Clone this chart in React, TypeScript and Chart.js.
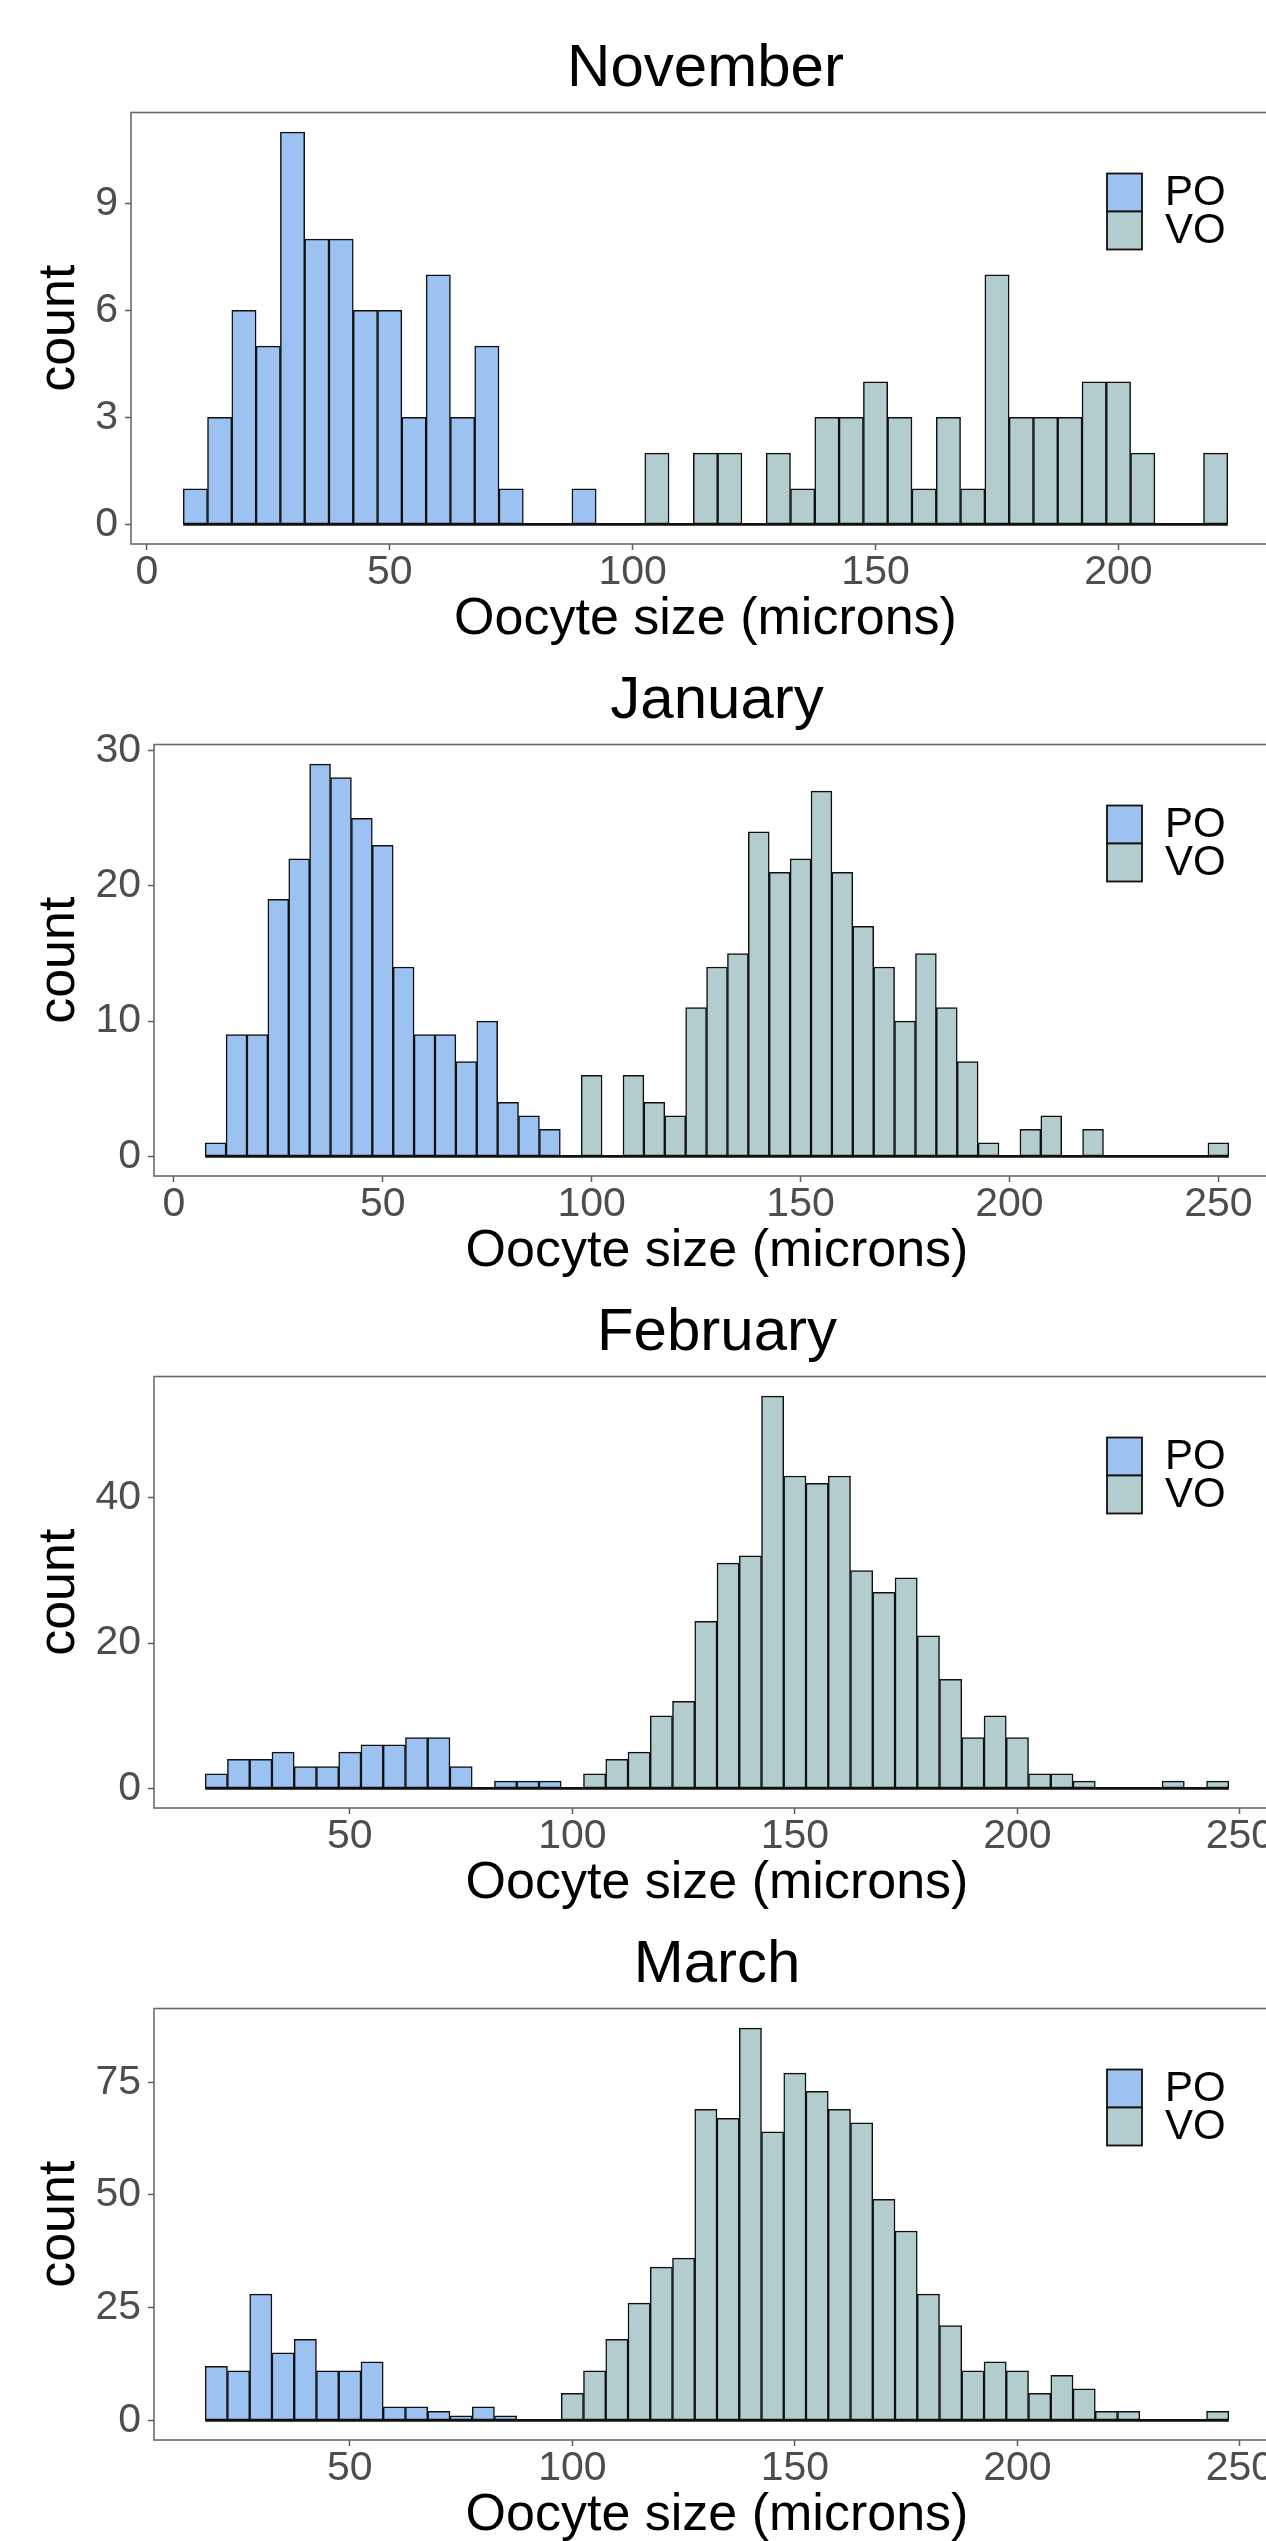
import React, { useEffect, useRef } from "react";
import { Chart, registerables } from "chart.js";

Chart.register(...registerables);

// ---------- data (bin width 5 microns, values = counts per bin) ----------
const BIN_WIDTH = 5;
const SERIES_LABELS = ["PO", "VO"];
const X_TITLE = "Oocyte size (microns)";
const Y_TITLE = "count";

// November
const novTitle = "November";
const novPOStart = 10;
const novPO = [1, 3, 6, 5, 11, 8, 8, 6, 6, 3, 7, 3, 5, 1, 0, 0, 1];
const novVOStart = 105;
const novVO = [2, 0, 2, 2, 0, 2, 1, 3, 3, 4, 3, 1, 3, 1, 7, 3, 3, 3, 4, 4, 2, 0, 0, 2];
const novXTicks = [0, 50, 100, 150, 200];
const novYTicks = [0, 3, 6, 9];

// January
const janTitle = "January";
const janPOStart = 10;
const janPO = [1, 9, 9, 19, 22, 29, 28, 25, 23, 14, 9, 9, 7, 10, 4, 3, 2];
const janVOStart = 100;
const janVO = [6, 0, 6, 4, 3, 11, 14, 15, 24, 21, 22, 27, 21, 17, 14, 10, 15, 11, 7, 1, 0, 2, 3, 0, 2, 0, 0, 0, 0, 0, 1];
const janXTicks = [0, 50, 100, 150, 200, 250];
const janYTicks = [0, 10, 20, 30];

// February
const febTitle = "February";
const febPOStart = 20;
const febPO = [2, 4, 4, 5, 3, 3, 5, 6, 6, 7, 7, 3, 0, 1, 1, 1];
const febVOStart = 105;
const febVO = [2, 4, 5, 10, 12, 23, 31, 32, 54, 43, 42, 43, 30, 27, 29, 21, 15, 7, 10, 7, 2, 2, 1, 0, 0, 0, 1, 0, 1];
const febXTicks = [50, 100, 150, 200, 250];
const febYTicks = [0, 20, 40];

// March
const marTitle = "March";
const marPOStart = 20;
const marPO = [12, 11, 28, 15, 18, 11, 11, 13, 3, 3, 2, 1, 3, 1];
const marVOStart = 100;
const marVO = [6, 11, 18, 26, 34, 36, 69, 67, 87, 64, 77, 73, 69, 66, 49, 42, 28, 21, 11, 13, 11, 6, 10, 7, 2, 2, 0, 0, 0, 2];
const marXTicks = [50, 100, 150, 200, 250];
const marYTicks = [0, 25, 50, 75];

// ---------- styling ----------
const FONT = "'Liberation Sans', Arial, Helvetica, sans-serif";
const PO_FILL = "#9CC2F2";
const VO_FILL = "#B3CDCF";
const OUTLINE = "#101010";
const TICK_TEXT = "#4D4D4D";
const TICK_LINE = "#5a5a5a";
const FRAME = "#6a6a6a";

const BLOCK_H = 632;
const CANVAS_W = 1300;
const CANVAS_H = 700;
const PLOT_TOP = 112.5;
const PLOT_BOTTOM = 544;
const PLOT_RIGHT = 1280;
const X_AXIS_H = 107;

type Panel = {
  title: string;
  poStart: number;
  po: number[];
  voStart: number;
  vo: number[];
  xTicks: number[];
  yTicks: number[];
  axisWidth: number;
};

const panels: Panel[] = [
  { title: novTitle, poStart: novPOStart, po: novPO, voStart: novVOStart, vo: novVO, xTicks: novXTicks, yTicks: novYTicks, axisWidth: 131 },
  { title: janTitle, poStart: janPOStart, po: janPO, voStart: janVOStart, vo: janVO, xTicks: janXTicks, yTicks: janYTicks, axisWidth: 154 },
  { title: febTitle, poStart: febPOStart, po: febPO, voStart: febVOStart, vo: febVO, xTicks: febXTicks, yTicks: febYTicks, axisWidth: 154 },
  { title: marTitle, poStart: marPOStart, po: marPO, voStart: marVOStart, vo: marVO, xTicks: marXTicks, yTicks: marYTicks, axisWidth: 154 },
];

const toPoints = (start: number, arr: number[]) =>
  arr.map((y, i) => ({ x: start + i * BIN_WIDTH, y }));

const framePlugin = {
  id: "ggFrame",
  afterDraw(chart: any) {
    const { ctx, chartArea } = chart;
    ctx.save();
    ctx.strokeStyle = FRAME;
    ctx.lineWidth = 1.6;
    ctx.strokeRect(chartArea.left, chartArea.top, chartArea.right - chartArea.left, chartArea.bottom - chartArea.top);
    ctx.restore();
  },
};

const titlePlugin = {
  id: "ggTitle",
  afterDraw(chart: any, _args: any, opts: any) {
    const { ctx, chartArea } = chart;
    ctx.save();
    ctx.font = `60px ${FONT}`;
    ctx.fillStyle = "#000";
    ctx.textAlign = "center";
    ctx.textBaseline = "alphabetic";
    ctx.fillText(opts.text, (chartArea.left + chartArea.right) / 2, chartArea.top - 26.5);
    ctx.restore();
  },
};

const legendPlugin = {
  id: "ggLegend",
  afterDraw(chart: any) {
    const { ctx, chartArea } = chart;
    const boxW = 35;
    const boxH = 38;
    const boxX = chartArea.right - 173;
    let y = chartArea.top + 61;
    ctx.save();
    ctx.font = `42px ${FONT}`;
    ctx.textBaseline = "middle";
    ctx.textAlign = "left";
    chart.data.datasets
      .filter((d: any) => d.type !== "line")
      .forEach((ds: any) => {
        ctx.fillStyle = ds.backgroundColor;
        ctx.fillRect(boxX, y, boxW, boxH);
        ctx.strokeStyle = OUTLINE;
        ctx.lineWidth = 1.8;
        ctx.strokeRect(boxX, y, boxW, boxH);
        ctx.fillStyle = "#000";
        ctx.fillText(ds.label, boxX + boxW + 23, y + boxH / 2 + 1);
        y += boxH;
      });
    ctx.restore();
  },
};

function PanelChart({ panel, top }: { panel: Panel; top: number }) {
  const ref = useRef<HTMLCanvasElement | null>(null);

  useEffect(() => {
    if (!ref.current) return;
    const p = panel;
    const lo = Math.min(p.poStart, p.voStart) - BIN_WIDTH / 2;
    const hi = Math.max(p.poStart + (p.po.length - 1) * BIN_WIDTH, p.voStart + (p.vo.length - 1) * BIN_WIDTH) + BIN_WIDTH / 2;
    const xPad = (hi - lo) * 0.05;
    const yMaxData = Math.max(...p.po, ...p.vo);
    const yPad = yMaxData * 0.05;

    const tickFont = { family: FONT, size: 41, lineHeight: 1 };
    const titleFont = { family: FONT, size: 52, lineHeight: 1.2 };

    const barCommon = {
      borderColor: OUTLINE,
      borderWidth: 1.5,
      borderSkipped: false,
      barPercentage: 1,
      categoryPercentage: 1,
      stack: "hist",
    };

    const chart = new Chart(ref.current, {
      type: "bar",
      data: {
        datasets: [
          {
            ...barCommon,
            label: SERIES_LABELS[0],
            data: toPoints(p.poStart, p.po),
            backgroundColor: PO_FILL,
            order: 2,
          } as any,
          {
            ...barCommon,
            label: SERIES_LABELS[1],
            data: toPoints(p.voStart, p.vo),
            backgroundColor: VO_FILL,
            order: 1,
          } as any,
          {
            type: "line",
            label: "baseline",
            data: [
              { x: lo, y: 0 },
              { x: hi, y: 0 },
            ],
            borderColor: OUTLINE,
            borderWidth: 2.8,
            pointRadius: 0,
            stack: "base",
            order: 0,
          } as any,
        ],
      },
      options: {
        animation: false,
        responsive: false,
        devicePixelRatio: 1,
        events: [],
        layout: { padding: { top: PLOT_TOP, bottom: CANVAS_H - PLOT_BOTTOM - X_AXIS_H, left: 0, right: CANVAS_W - PLOT_RIGHT } },
        plugins: {
          legend: { display: false },
          tooltip: { enabled: false },
          title: { display: false },
          ggTitle: { text: p.title },
        } as any,
        scales: {
          x: {
            type: "linear",
            min: lo - xPad,
            max: hi + xPad,
            offset: false,
            stacked: true,
            grid: { display: true, drawOnChartArea: false, drawTicks: true, tickLength: 6, tickColor: TICK_LINE, color: TICK_LINE, tickWidth: 1.5, offset: false },
            border: { display: false },
            ticks: { font: tickFont, color: TICK_TEXT, padding: 2, maxRotation: 0, autoSkip: false, callback: (v: any) => String(v) },
            afterBuildTicks: (s: any) => {
              s.ticks = p.xTicks.map((v) => ({ value: v }));
            },
            afterFit: (s: any) => {
              s.height = X_AXIS_H;
            },
            title: { display: true, text: X_TITLE, font: titleFont, color: "#000", padding: 0 },
          },
          y: {
            type: "linear",
            min: -yPad,
            max: yMaxData + yPad,
            stacked: true,
            grid: { display: true, drawOnChartArea: false, drawTicks: true, tickLength: 6, tickColor: TICK_LINE, color: TICK_LINE, tickWidth: 1.5 },
            border: { display: false },
            ticks: { font: tickFont, color: TICK_TEXT, padding: 7, callback: (v: any) => String(v) },
            afterBuildTicks: (s: any) => {
              s.ticks = p.yTicks.map((v) => ({ value: v }));
            },
            afterFit: (s: any) => {
              s.width = p.axisWidth;
            },
            title: { display: true, text: Y_TITLE, font: titleFont, color: "#000", padding: { top: 28, bottom: 0 } },
          },
        },
      } as any,
      plugins: [framePlugin, titlePlugin, legendPlugin],
    });

    return () => chart.destroy();
  }, [panel]);

  return (
    <canvas
      ref={ref}
      width={CANVAS_W}
      height={CANVAS_H}
      style={{ position: "absolute", left: 0, top, width: CANVAS_W, height: CANVAS_H }}
    />
  );
}

export default function App() {
  return (
    <div
      style={{
        position: "absolute",
        left: 0,
        top: 0,
        width: 1266,
        height: 2541,
        overflow: "hidden",
        background: "#fff",
      }}
    >
      {panels.map((p, k) => (
        <PanelChart key={p.title} panel={p} top={k * BLOCK_H} />
      ))}
    </div>
  );
}
